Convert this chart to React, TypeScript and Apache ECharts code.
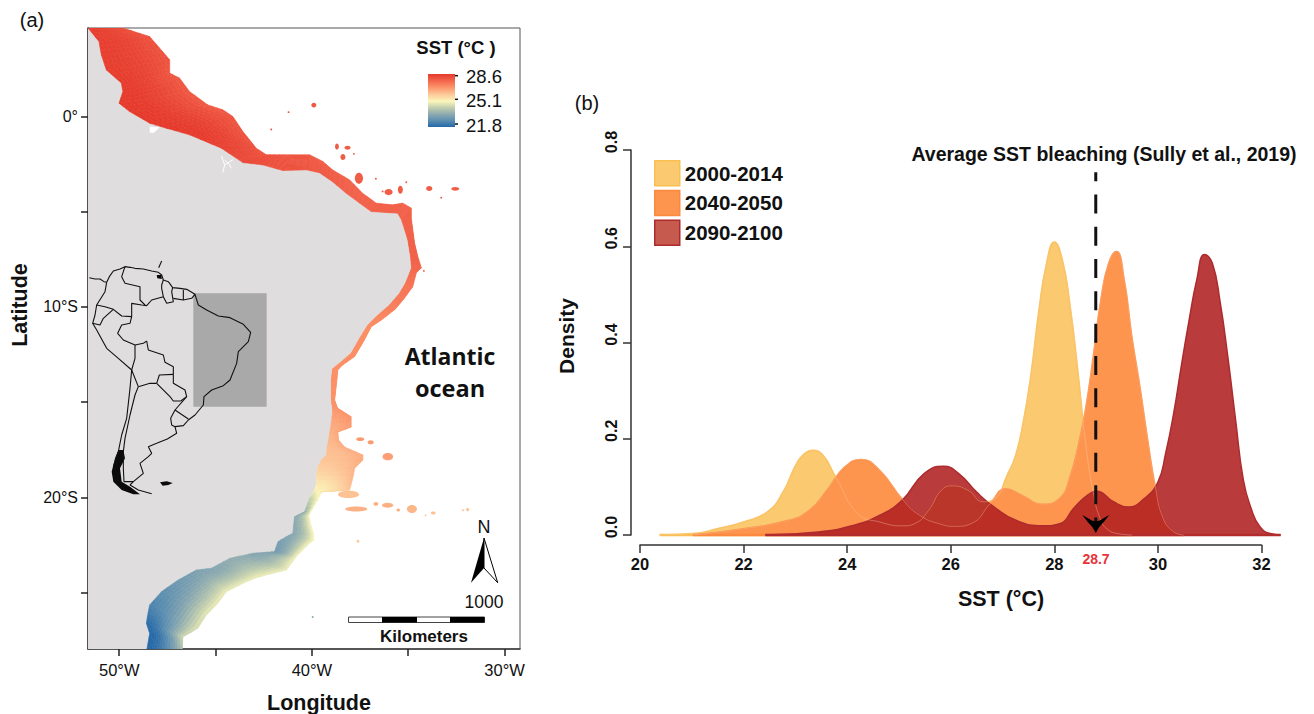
import React, { useEffect, useRef } from "react";
import * as echarts from "echarts";

// ---------- panel (b) data ----------
const yearLabels = ["2000-2014", "2040-2050", "2090-2100"];
const sst2000X = [20.38,21.02,21.49,22.0,22.46,22.76,23.02,23.19,23.33,23.53,23.78,24.21,24.63,25.06,25.31,25.57,25.82,26.03,26.33,26.63,26.85,27.10,27.25,27.4,27.55,27.7,27.85,28.0,28.15,28.3,28.45,28.6,28.75,28.9,29.05,29.22,29.5];
const sst2000Y = [0,.003,.013,.027,.048,.089,.148,.17,.176,.166,.12,.044,.027,.019,.024,.051,.093,.102,.093,.069,.075,.127,.165,.235,.335,.465,.565,.609,.574,.48,.345,.195,.09,.03,.01,.003,0];
const sst2040X = [21.02,22.0,22.85,23.27,23.61,23.95,24.27,24.63,25.06,25.40,25.82,26.08,26.42,26.76,27.06,27.35,27.78,28.12,28.3,28.45,28.6,28.75,28.9,29.05,29.2,29.35,29.5,29.65,29.8,29.95,30.1,30.3,30.5];
const sst2040Y = [0,.013,.03,.051,.093,.141,.157,.134,.075,.041,.022,.018,.025,.065,.096,.084,.064,.078,.12,.18,.26,.37,.49,.565,.589,.53,.41,.31,.2,.1,.035,.007,0];
const sst2090X = [22.42,23.44,24.12,24.63,25.06,25.48,25.86,26.16,26.5,26.84,27.27,27.78,28.12,28.37,28.63,28.82,29.14,29.43,29.73,30.0,30.15,30.3,30.45,30.6,30.75,30.9,31.05,31.2,31.35,31.5,31.65,31.8,31.97,32.17,32.37];
const sst2090Y = [0,.006,.02,.041,.072,.127,.143,.127,.089,.058,.03,.019,.024,.055,.082,.091,.069,.058,.075,.11,.17,.25,.35,.445,.53,.583,.565,.485,.37,.239,.114,.055,.017,.003,0];
const bleachingSst = 28.8;
const bleachingLabel = "28.7";
const sstAxisMax = 32.4;

// ---------- panel (a) data ----------
const lonTicks = [-50, -45, -40, -35, -30];
const lonLabels = [-50, -40, -30];
const latTicks = [0, -5, -10, -15, -20, -25];
const latLabels = [0, -10, -20];
const sstLegendValues = [28.6, 25.1, 21.8];
const sstStops = [21.8, 22.6, 23.4, 24.3, 25.1, 26.0, 27.0, 27.8, 28.6];
const sstColors = ["#2468a8", "#5a8db0", "#8aa8b0", "#c3cfae", "#fbf6bb", "#fdc899", "#fb8e65", "#f2624a", "#e5392b"];

// coastal shelf cross-sections: inner lon, lat, outer lon, lat, inner SST, outer SST
const shelf = [
[-51.62,4.65,-49.81,4.65,28.5,28.2],[-51.05,3.94,-48.42,4.20,28.5,28.1],[-50.93,3.24,-47.90,3.59,28.5,28.1],[-50.67,2.45,-47.38,2.98,28.5,28.05],
[-49.89,1.76,-47.38,2.28,28.55,28.0],[-49.81,1.31,-46.87,2.02,28.55,27.95],[-50.01,0.70,-46.35,1.31,28.6,27.95],[-49.46,0.26,-45.40,0.61,28.6,27.95],
[-48.42,-0.35,-44.62,0.35,28.6,27.95],[-47.56,-0.61,-44.10,0,28.6,28.0],[-46.35,-0.96,-43.58,-0.79,28.6,28.05],[-44.70,-1.66,-42.89,-1.66,28.45,28.1],
[-43.58,-2.42,-42.37,-2.01,28.3,28.1],[-42.54,-2.54,-41.68,-2.01,28.2,28.1],[-41.50,-2.84,-40.99,-2.01,28.15,28.0],[-40.29,-2.80,-40.12,-2.01,28.1,28.0],
[-39.60,-2.96,-39.43,-2.36,28.0,27.95],[-38.93,-3.42,-38.93,-2.80,27.95,27.9],[-38.22,-4.03,-38.04,-3.33,27.9,27.85],[-37.52,-4.55,-37.37,-4.03,27.85,27.85],
[-36.92,-4.99,-36.66,-4.55,27.85,27.85],[-36.14,-5.04,-35.81,-4.64,27.85,27.85],[-35.54,-5.08,-35.29,-4.55,27.85,27.85],[-35.35,-5.43,-34.84,-4.81,27.85,27.85],
[-35.28,-5.64,-34.84,-5.34,27.85,27.85],[-35.02,-6.48,-34.67,-6.65,27.8,27.8],[-34.88,-7.36,-34.50,-7.36,27.8,27.8],[-34.83,-7.95,-34.32,-7.95,27.75,27.75],
[-34.93,-8.23,-34.58,-8.21,27.6,27.6],[-35.14,-8.75,-34.77,-8.95,27.5,27.5],[-35.45,-9.28,-35.19,-9.53,27.4,27.4],[-35.97,-9.90,-35.66,-10.11,27.3,27.3],
[-36.66,-10.51,-36.38,-10.68,27.1,27.1],[-37.09,-10.95,-36.92,-11.04,27.0,27.0],[-37.52,-11.65,-37.27,-11.73,27.0,27.0],[-37.96,-12.43,-37.78,-12.61,27.0,27.0],
[-38.56,-12.96,-38.41,-13.05,26.95,26.95],[-38.93,-13.26,-38.65,-13.31,26.95,26.95],[-38.99,-13.84,-38.70,-13.84,26.95,26.95],[-38.99,-14.89,-38.82,-14.89,26.9,26.9],
[-38.93,-15.31,-38.67,-15.31,26.85,26.85],[-38.93,-15.57,-37.96,-15.77,26.8,26.95],[-39.03,-16.36,-37.96,-16.31,26.5,26.8],[-39.08,-16.62,-38.65,-16.57,26.4,26.6],
[-39.13,-16.99,-38.61,-16.99,26.3,26.5],[-39.21,-17.36,-38.30,-17.36,26.2,26.45],[-39.25,-17.78,-37.35,-17.78,26.1,26.5],[-39.50,-18.04,-37.35,-18.04,26.05,26.5],
[-39.69,-18.39,-37.78,-18.48,25.95,26.35],[-39.76,-18.83,-37.84,-18.83,25.7,26.3],[-39.77,-19.26,-37.94,-19.25,25.4,26.25],[-39.86,-19.62,-38.04,-19.62,25.2,26.15],
[-39.94,-19.72,-39.50,-19.71,24.9,25.4],[-40.12,-20.04,-39.69,-20.14,24.4,25.1],[-40.38,-20.76,-40.07,-20.77,23.7,25.0],[-40.90,-21.02,-40.16,-20.98,23.4,25.0],
[-40.95,-21.46,-40.07,-21.40,23.4,25.05],[-40.99,-21.89,-39.91,-21.93,23.4,25.1],[-41.36,-22.09,-39.90,-22.24,23.3,25.1],[-41.76,-22.33,-40.22,-22.51,23.1,25.0],
[-41.94,-22.86,-40.79,-23.09,23.0,25.0],[-42.51,-22.90,-40.99,-23.38,23.3,25.0],[-43.06,-22.94,-41.33,-23.82,23.3,24.9],[-43.75,-23.09,-42.37,-24.08,23.5,24.9],
[-44.27,-23.21,-42.92,-24.24,23.5,24.9],[-45.22,-23.73,-43.40,-24.44,23.3,24.9],[-46.00,-23.82,-44.44,-24.96,23.2,24.9],[-46.95,-24.35,-44.88,-25.57,23.0,24.9],
[-47.81,-24.96,-45.48,-26.19,22.7,24.8],[-48.42,-25.66,-45.92,-26.88,22.4,24.7],[-48.51,-26.10,-46.24,-27.08,22.2,24.6],[-48.59,-26.62,-46.69,-27.33,21.9,24.5],
[-48.42,-27.15,-46.71,-27.60,21.8,24.3],[-48.56,-27.97,-46.72,-27.97,21.8,24.0],
];

// offshore banks: lon, lat, width, height (degrees), SST
const banks = [
[-39.90,.60,.26,.26,28],[-41.21,.23,.1,.1,28],[-42.11,-.68,.1,.1,28],[-38.70,-1.58,.2,.32,27.9],[-38.15,-1.64,.32,.2,27.9],[-38.39,-2.13,.26,.32,27.9],[-37.82,-1.96,.1,.1,27.9],
[-37.56,-3.24,.42,.58,27.9],[-36.68,-3.27,.1,.1,27.9],[-36.02,-3.97,.42,.32,27.9],[-36.33,-3.94,.1,.1,27.9],[-35.41,-3.85,.26,.42,27.9],[-35.10,-3.45,.1,.1,27.9],
[-33.91,-3.78,.32,.26,27.9],[-32.56,-3.80,.42,.2,27.9],[-33.29,-4.27,.1,.1,27.9],[-34.19,-8.11,.1,.1,27.8],[-37.49,-16.95,.42,.2,26.8],[-36.95,-17.11,.32,.22,26.8],
[-36.06,-17.87,.55,.38,26.7],[-37.70,-20.62,1.15,.26,26.4],[-36.68,-20.35,.26,.2,26.4],[-36.07,-20.42,.58,.26,26.4],[-35.52,-20.67,.2,.16,26.4],[-34.81,-20.62,.52,.42,26.3],
[-33.70,-20.83,.26,.16,26.1],[-34.10,-20.95,.1,.1,26.1],[-32.16,-20.68,.1,.1,26.1],[-31.92,-20.65,.16,.16,26.1],[-37.61,-22.31,.16,.16,25.9],[-39.96,-26.29,.1,.1,23.5],[-38.10,-19.85,1.1,.38,26.1],
];
const whitePatch = [[-48.42,-.53],[-47.90,-.56],[-48.21,-.87],[-48.42,-.84]];
const riverMouths = [
  [[-44.62,-2.94],[-44.53,-2.54],[-44.69,-2.07]],
  [[-44.18,-2.71],[-44.34,-2.45],[-44.53,-2.30]],
  [[-44.53,-2.54],[-44.11,-2.28]],
];

// inset of South America, in its own unit square (0-600 wide, 0-750 tall)
const insetBox = [[340,115],[560,115],[560,455],[340,455]];
const insetCoast = [[28,68],[45,72],[60,72],[72,80],[80,82],[88,65],[100,48],[120,42],[135,35],[150,37],[165,40],[190,42],[215,48],[235,52],[245,60],[250,75],[265,80],[278,98],[300,100],[320,103],[345,118],[355,150],[380,165],[415,183],[450,188],[490,208],[512,232],[505,260],[475,290],[470,325],[450,375],[430,392],[395,405],[372,425],[370,450],[345,480],[325,495],[310,512],[285,515],[290,535],[262,552],[230,565],[205,575],[215,595],[205,605],[180,625],[190,655],[160,680],[150,690],[175,705],[215,716]];
const insetPacific = [[80,82],[75,110],[50,150],[45,180],[38,205],[50,225],[80,280],[115,310],[155,345],[150,400],[140,490],[125,540],[115,590],[100,635]];
const insetBorders = [
  [[50,150],[75,155],[100,163],[125,183],[155,185]],
  [[38,205],[60,210],[70,190],[100,163]],
  [[135,35],[125,65],[135,85],[180,95],[180,135],[195,150]],
  [[155,185],[155,145],[185,150],[200,152],[215,135],[250,125],[245,100],[245,90],[250,75]],
  [[250,125],[260,145],[280,140],[275,110],[278,98]],
  [[280,130],[310,135],[310,105]],
  [[310,135],[335,130],[345,118]],
  [[155,185],[150,205],[125,210],[113,235],[130,255],[165,270],[190,265],[200,258]],
  [[165,270],[165,310],[155,345]],
  [[200,258],[205,285],[250,300],[255,322],[280,335],[280,358]],
  [[155,345],[175,395]],
  [[175,395],[210,385],[230,385]],
  [[230,385],[238,360],[280,358]],
  [[280,358],[280,385],[315,405],[320,425],[302,438]],
  [[230,385],[270,425],[280,438],[302,438]],
  [[320,425],[285,465]],
  [[285,465],[325,492]],
  [[285,465],[272,490],[275,510],[285,515]],
  [[175,395],[165,420],[150,480],[135,550],[130,590],[130,640],[132,680],[160,680]],
  [[245,18],[236,38]],
];
const insetFilled = [
  [[115,585],[130,585],[135,610],[120,640],[125,680],[150,695],[180,718],[160,718],[125,705],[100,680],[95,650],[105,610]],
  [[240,682],[260,679],[278,684],[265,690],[248,692]],
  [[230,60],[245,60],[245,72],[232,70]],
];

// ---------- helpers ----------
const FONT = "Liberation Sans";
const hexRgb = (h: string) => [1, 3, 5].map((i) => parseInt(h.slice(i, i + 2), 16));
function sstColor(v: number) {
  let i = 0;
  while (i < sstStops.length - 2 && v > sstStops[i + 1]) i++;
  const t = Math.max(0, Math.min(1, (v - sstStops[i]) / (sstStops[i + 1] - sstStops[i])));
  const a = hexRgb(sstColors[i]);
  const b = hexRgb(sstColors[i + 1]);
  return `rgb(${a.map((c, k) => Math.round(c + (b[k] - c) * t)).join(",")})`;
}
const zip = (xs: number[], ys: number[]) => xs.map((x, i) => [x, ys[i]]);

function polySeries(polys: number[][][], fill: string, axis: number, extra: any = {}, z = 2) {
  return {
    type: "custom", xAxisIndex: axis, yAxisIndex: axis, silent: true, clip: true, z,
    data: polys.map((_, i) => [i]),
    renderItem: (_p: any, api: any) => ({
      type: "polygon",
      shape: { points: polys[api.value(0)].map((c) => api.coord(c)) },
      style: { fill, ...extra },
    }),
  };
}
function lineSeries(data: number[][], color: string, width: number, axis: number, extra: any = {}) {
  return {
    type: "line", xAxisIndex: axis, yAxisIndex: axis, data, showSymbol: false, silent: true,
    lineStyle: { color, width }, itemStyle: { color }, ...extra,
  };
}

function shelfSeries() {
  const NU = 3, NV = 14;
  return {
    type: "custom", xAxisIndex: 0, yAxisIndex: 0, silent: true, clip: true,
    data: shelf.slice(0, -1).map((_, i) => [i]),
    renderItem: (_p: any, api: any) => {
      const a = shelf[api.value(0)];
      const b = shelf[api.value(0) + 1];
      const at = (u: number, v: number) => {
        const s = (k: number, m: number, w: number) => {
          const p = a[k] + (a[m] - a[k]) * w;
          const q = b[k] + (b[m] - b[k]) * w;
          return p + (q - p) * u;
        };
        return [s(0, 2, v), s(1, 3, v), s(4, 5, Math.pow(v, 1.8))];
      };
      const children: any[] = [];
      for (let i = 0; i < NU; i++) for (let j = 0; j < NV; j++) {
        const corners = [at(i / NU, j / NV), at((i + 1) / NU, j / NV), at((i + 1) / NU, (j + 1) / NV), at(i / NU, (j + 1) / NV)];
        const col = sstColor(at((i + .5) / NU, (j + .5) / NV)[2]);
        children.push({
          type: "polygon",
          shape: { points: corners.map((c) => api.coord([c[0], c[1]])) },
          style: { fill: col, stroke: col, lineWidth: 0.6 },
        });
      }
      return { type: "group", children };
    },
  };
}
function bankSeries() {
  return {
    type: "custom", xAxisIndex: 0, yAxisIndex: 0, silent: true, clip: true,
    data: banks.map((_, i) => [i]),
    renderItem: (_p: any, api: any) => {
      const b = banks[api.value(0)];
      const c = api.coord([b[0], b[1]]);
      const e = api.coord([b[0] + b[2] / 2, b[1] + b[3] / 2]);
      return {
        type: "ellipse",
        shape: { cx: c[0], cy: c[1], rx: Math.abs(e[0] - c[0]), ry: Math.abs(e[1] - c[1]) },
        style: { fill: sstColor(b[4]) },
      };
    },
  };
}
function arrowSeries(z: number) {
  const head = [[-13.5,-18],[-9,-15.5],[-4,-12.5],[0,-11.5],[4,-12.5],[9,-15.5],[13.5,-18],[8,-11],[3.5,-6],[0,0],[-3.5,-6],[-8,-11]];
  return {
    type: "custom", xAxisIndex: 2, yAxisIndex: 2, silent: true, clip: false, z,
    data: [[bleachingSst, 0.004]],
    renderItem: (_p: any, api: any) => {
      const c = api.coord([api.value(0), api.value(1)]);
      return { type: "polygon", shape: { points: head.map((h) => [c[0] + h[0], c[1] + h[1]]) }, style: { fill: "#000" } };
    },
  };
}

const COL = {
  y: { fill: "#fbca70", line: "#f9bf50" },
  o: { fill: "#fe954f", line: "#fb8a40" },
  r: { fill: "rgba(176,32,32,0.88)", line: "#ad2a2d", swatch: "#c65a4e" },
};
const SMOOTH = 0.5;
function density(name: string, xs: number[], ys: number[], c: any, z: number) {
  return {
    name, type: "line", xAxisIndex: 2, yAxisIndex: 2, data: zip(xs, ys), showSymbol: false, silent: true,
    smooth: SMOOTH, clip: false, z,
    lineStyle: { color: c.line, width: 1.5 }, itemStyle: { color: c.fill },
    areaStyle: { color: c.fill, opacity: 1, origin: "start" },
  };
}
function ghost(xs: number[], ys: number[], z: number) {
  return lineSeries(zip(xs, ys), "#ffd0b0", 0.9, 2, { smooth: SMOOTH, clip: false, z, lineStyle: { color: "#ffd0b0", width: 0.9, opacity: 0.4 } });
}
function base(xs: number[], c: string, z: number) {
  return lineSeries([[xs[0], 0], [xs[xs.length - 1], 0]], c, 2.5, 2, { clip: false, z });
}

const txt = (text: string, x: number, y: number, size: number, weight: any = "bold", extra: any = {}, el: any = {}) => ({
  type: "text", x, y, z: 50, silent: true, ...el,
  style: { text, fontSize: size, fontWeight: weight, fontFamily: FONT, fill: "#111", textAlign: "center", textVerticalAlign: "middle", ...extra },
});
const grect = (x: number, y: number, w: number, h: number, style: any) => ({
  type: "rect", z: 50, silent: true, shape: { x, y, width: w, height: h }, style,
});

export default function App() {
  const ref = useRef<HTMLDivElement>(null);
  useEffect(() => {
    const chart = echarts.init(ref.current!, undefined, { renderer: "svg" });
    const sstRange = sstStops[sstStops.length - 1] - sstStops[0];
    const barStops = sstStops.map((v, i) => ({ offset: 1 - (v - sstStops[0]) / sstRange, color: sstColors[i] })).reverse();
    const land = [[-51.62, 4.65], ...shelf.map((s) => [s[0], s[1]]), [-51.62, -27.97]];
    const axisCommon = { splitLine: { show: false }, axisPointer: { show: false } };
    const mapLine = { show: true, onZero: false, lineStyle: { color: "#3a3a3a", width: 1.6 } };
    const pxPerSst = 621.5 / 12;
    const option: any = {
      animation: false,
      backgroundColor: "#fff",
      grid: [
        { left: 88, top: 28, width: 432, height: 621, show: true, borderColor: "#555", borderWidth: 1, backgroundColor: "#fff" },
        { left: 80, top: 255, width: 200, height: 250 },
        { left: 640, top: 150, width: pxPerSst * (sstAxisMax - 20), height: 385 },
        { left: 640, top: 150, width: 621.5, height: 385 },
      ],
      xAxis: [
        {
          ...axisCommon, type: "value", gridIndex: 0, min: -51.62, max: -29.2, axisLine: mapLine,
          axisTick: { show: true, length: 7, customValues: lonTicks, lineStyle: { color: "#222", width: 1.5 } },
          axisLabel: { customValues: lonLabels, margin: 12, fontFamily: FONT, fontSize: 16.5, color: "#111", formatter: (v: number) => `${Math.abs(v)}°W` },
        },
        { ...axisCommon, type: "value", gridIndex: 1, min: 0, max: 600, show: false },
        { ...axisCommon, type: "value", gridIndex: 2, min: 20, max: sstAxisMax, show: false },
        {
          ...axisCommon, type: "value", gridIndex: 3, min: 20, max: 32, interval: 2, offset: 10,
          axisLine: { show: true, onZero: false, lineStyle: { color: "#333", width: 1.5 } },
          axisTick: { show: true, length: 8, lineStyle: { color: "#333", width: 1.5 } },
          axisLabel: { margin: 10, fontFamily: FONT, fontSize: 16.5, fontWeight: "bold", color: "#111" },
        },
      ],
      yAxis: [
        {
          ...axisCommon, type: "value", gridIndex: 0, min: -27.97, max: 4.65, axisLine: mapLine,
          axisTick: { show: true, length: 7, customValues: latTicks, lineStyle: { color: "#222", width: 1.5 } },
          axisLabel: { customValues: latLabels, margin: 10, fontFamily: FONT, fontSize: 16, color: "#111", formatter: (v: number) => (v === 0 ? "0°" : `${Math.abs(v)}°S`) },
        },
        { ...axisCommon, type: "value", gridIndex: 1, min: 0, max: 750, inverse: true, show: false },
        {
          ...axisCommon, type: "value", gridIndex: 2, min: 0, max: 0.8, interval: 0.2, offset: 9,
          axisLine: { show: true, onZero: false, lineStyle: { color: "#333", width: 1.5 } },
          axisTick: { show: true, length: 8, lineStyle: { color: "#333", width: 1.5 } },
          axisLabel: { rotate: 90, margin: 12, padding: [0, 0, 0, 16], fontFamily: FONT, fontSize: 16, fontWeight: "bold", color: "#111", formatter: (v: number) => v.toFixed(1) },
        },
        { ...axisCommon, type: "value", gridIndex: 3, min: 0, max: 0.8, show: false },
      ],
      legend: {
        left: 654, top: 160, padding: 0, orient: "vertical", itemWidth: 25, itemHeight: 25, itemGap: 3.2, selectedMode: false,
        textStyle: { fontFamily: FONT, fontSize: 20.5, fontWeight: "bold", color: "#111" },
        data: [
          { name: yearLabels[0], icon: "rect", itemStyle: { color: COL.y.fill, borderColor: COL.y.line, borderWidth: 1.5 } },
          { name: yearLabels[1], icon: "rect", itemStyle: { color: COL.o.fill, borderColor: COL.o.line, borderWidth: 1.5 } },
          { name: yearLabels[2], icon: "rect", itemStyle: { color: COL.r.swatch, borderColor: COL.r.line, borderWidth: 1.5 } },
        ],
      },
      series: [
        polySeries([land], "#dfdddd", 0),
        shelfSeries(),
        bankSeries(),
        polySeries([whitePatch], "#fff", 0),
        ...riverMouths.map((r) => lineSeries(r, "#fff", 1, 0)),
        polySeries([insetBox], "#a9a9a9", 1),
        lineSeries(insetCoast, "#111", 1.1, 1),
        lineSeries(insetPacific, "#111", 1.1, 1),
        ...insetBorders.map((b) => lineSeries(b, "#111", 1.1, 1)),
        polySeries(insetFilled, "#0b0b0b", 1, {}, 3),
        density(yearLabels[0], sst2000X, sst2000Y, COL.y, 3),
        base(sst2000X, COL.y.line, 3),
        density(yearLabels[1], sst2040X, sst2040Y, COL.o, 4),
        base(sst2040X, COL.o.line, 4),
        density(yearLabels[2], sst2090X, sst2090Y, COL.r, 5),
        base(sst2090X, "#b22c2e", 5),
        ghost(sst2000X, sst2000Y, 6),
        ghost(sst2040X, sst2040Y, 6),
        lineSeries([[bleachingSst, 0.754], [bleachingSst, 0.012]], "#111", 3, 2, { z: 7, lineStyle: { color: "#111", width: 3, type: [19, 13.3], dashOffset: 10.3 } }),
        arrowSeries(8),
      ],
      graphic: [
        txt("(a)", 32, 20, 20, "normal"),
        txt("(b)", 587, 103, 20, "normal"),
        txt("Latitude", 20, 305, 21.5, "bold", {}, { rotation: Math.PI / 2 }),
        txt("Longitude", 319, 703, 21.5),
        txt("Density", 566, 336, 21, "bold", {}, { rotation: Math.PI / 2 }),
        txt("SST (°C)", 1001, 599, 21.5),
        txt("Average SST bleaching (Sully et al., 2019)", 1104, 154, 19.5),
        txt(bleachingLabel, 1096, 559, 14, "bold", { fill: "#e8333a" }),
        txt("Atlantic", 450, 356, 23, "bold", { fontFamily: "Open Sans" }),
        txt("ocean", 450, 388, 23.5, "bold", { fontFamily: "Open Sans" }),
        txt("SST (°C )", 456, 47, 18.5),
        grect(428, 74, 27, 53, { fill: new echarts.graphic.LinearGradient(0, 0, 0, 1, barStops) }),
        ...sstLegendValues.map((v, i) => txt(String(v), 484, [75.7, 99.8, 124.5][i] + 0.5, 18.5, "normal")),
        ...[75.7, 99.3, 124].map((y) => grect(455, y - 0.75, 3, 1.5, { fill: "#111" })),
        txt("N", 484, 527, 18, "normal"),
        { type: "polygon", z: 50, silent: true, shape: { points: [[484, 538], [471, 582.7], [484, 568]] }, style: { fill: "#000" } },
        { type: "polygon", z: 50, silent: true, shape: { points: [[484, 538], [497.7, 582.7], [484, 568]] }, style: { fill: "#fff", stroke: "#000", lineWidth: 1 } },
        txt("1000", 484, 602, 17.5, "normal"),
        grect(348.5, 617, 136, 5.5, { fill: "#fff", stroke: "#444", lineWidth: 1 }),
        grect(382, 617, 35, 5.5, { fill: "#000" }),
        grect(450, 617, 34.5, 5.5, { fill: "#000" }),
        txt("Kilometers", 424, 636, 17),
      ],
    };
    chart.setOption(option);
    return () => chart.dispose();
  }, []);
  return <div ref={ref} style={{ position: "fixed", left: 0, top: 0, width: 1314, height: 714, background: "#fff" }} />;
}
